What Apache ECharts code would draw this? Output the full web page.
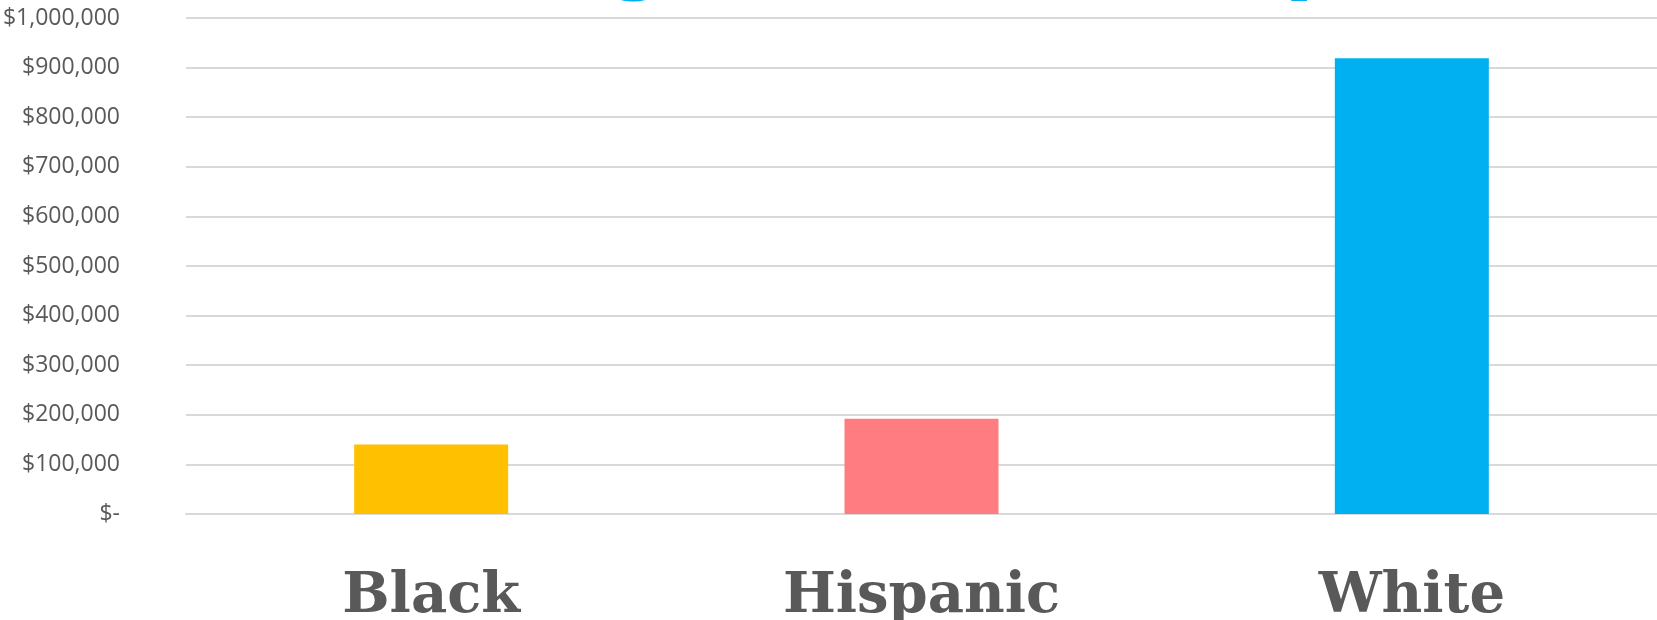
<!DOCTYPE html>
<html lang="en">

<head>
    <meta charset="UTF-8">
    <title>Wealth by race</title>
    <script src="https://cdn.jsdelivr.net/npm/echarts@6/dist/echarts.min.js"></script>
    <style>
        * {
            margin: 0;
            padding: 0
        }

        html,
        body {
            width: 100%;
            height: 100%;
            background: #fff;
        }

        #main {
            width: 1657px;
            height: 620px;
        }
    </style>
</head>

<body>
    <div id="main"></div>
    <script type="text/javascript">
        var categories = ['Black', 'Hispanic', 'White'];
        var wealth = [140000, 192000, 919000];
        var barColors = ['#FFC000', '#FF7C80', '#00B0F0'];
        var titleText = 'Average Wealth Gap';

        var myChart = echarts.init(document.getElementById('main'));

        var option = {
            animation: false,
            graphic: [{
                type: 'text',
                left: 314,
                top: -86,
                z: -1,
                style: {
                    text: titleText,
                    font: 'bold 90px "DejaVu Sans"',
                    fill: '#00B0F0'
                }
            }],
            grid: {
                left: 186,
                right: 0,
                top: 18,
                bottom: 106,
                containLabel: false,
                outerBoundsMode: 'none'
            },
            xAxis: {
                type: 'category',
                data: categories,
                axisLine: { lineStyle: { color: '#d9d9d9', width: 2 } },
                axisTick: { show: false },
                axisLabel: {
                    margin: 55,
                    color: '#595959',
                    fontFamily: 'DejaVu Serif',
                    fontWeight: 'bold',
                    fontSize: 56
                }
            },
            yAxis: {
                type: 'value',
                min: 0,
                max: 1000000,
                interval: 100000,
                axisLine: { show: false },
                axisTick: { show: false },
                splitLine: { lineStyle: { color: '#d9d9d9', width: 2 } },
                axisLabel: {
                    margin: 66,
                    color: '#595959',
                    fontFamily: 'Open Sans',
                    fontSize: 23,
                    formatter: function (v) {
                        if (v === 0) return '$-';
                        return '$' + v.toLocaleString('en-US');
                    }
                }
            },
            series: [{
                type: 'bar',
                barWidth: 154,
                data: wealth.map(function (v, i) {
                    return { value: v, itemStyle: { color: barColors[i] } };
                })
            }]
        };

        myChart.setOption(option);
    </script>
</body>

</html>
